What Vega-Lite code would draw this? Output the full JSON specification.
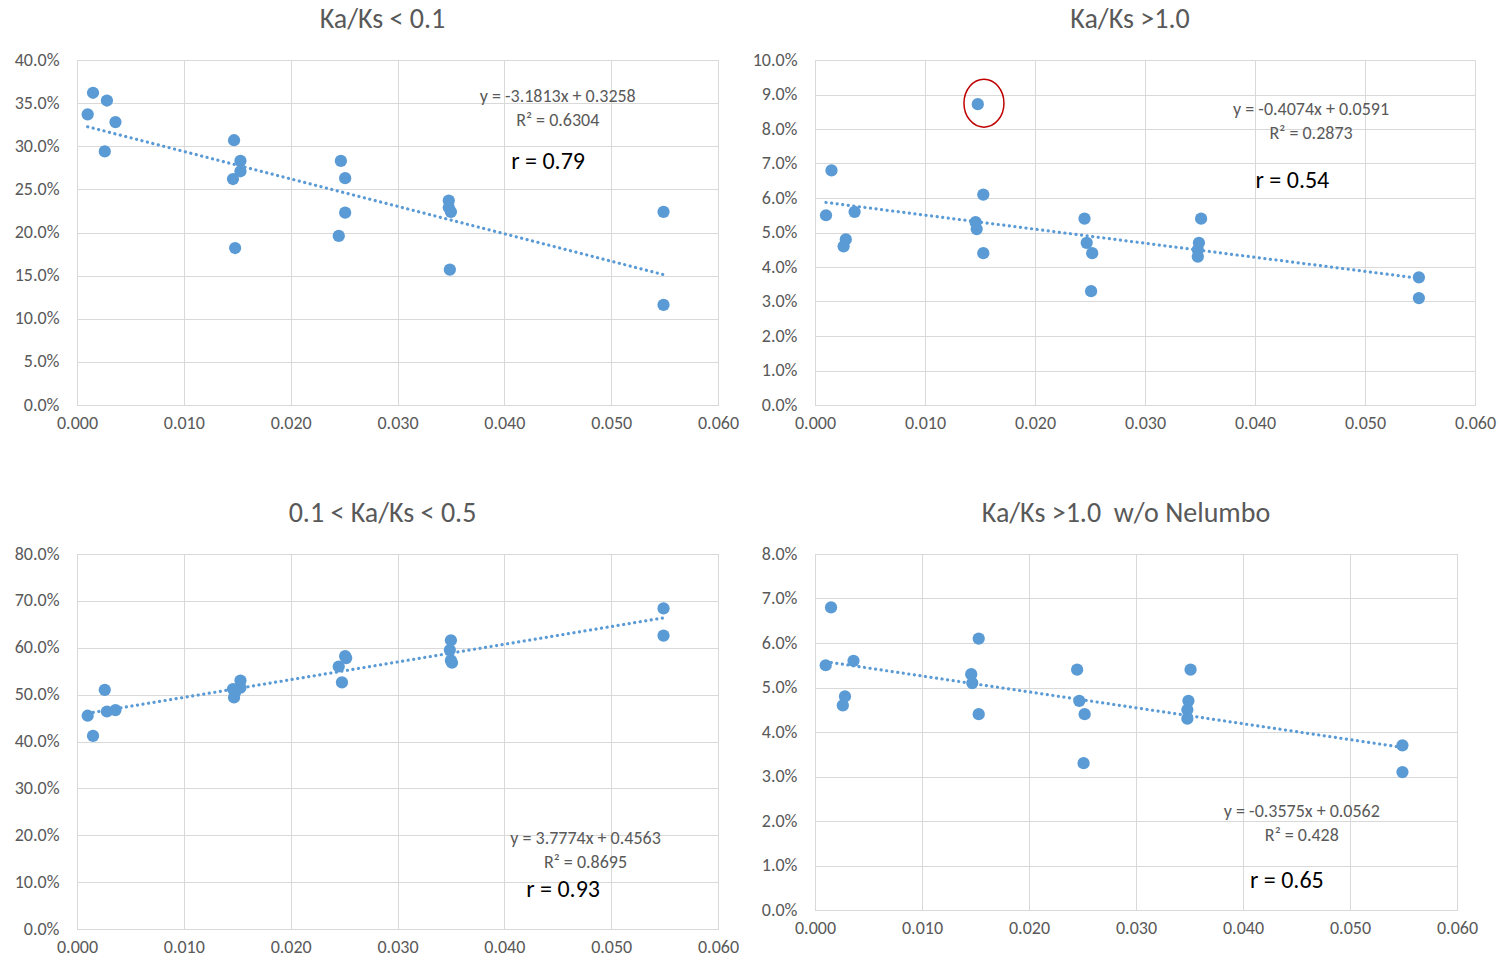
{
  "$schema": "https://vega.github.io/schema/vega-lite/v6.json",
  "background": "white",
  "padding": {"left": 13, "top": 5, "right": 0, "bottom": 0},
  "config": {
    "font": "Calibri, Carlito, Lato, sans-serif",
    "view": {"stroke": "#D9D9D9"},
    "axis": {"grid": true, "gridColor": "#D9D9D9", "domainColor": "#D9D9D9", "ticks": false, "tickSize": 0, "labelColor": "#595959", "labelFontSize": 18, "labelFlush": false, "labelOverlap": false},
    "axisX": {"labelPadding": 9},
    "axisY": {"labelPadding": 18},
    "title": {"fontSize": 28, "color": "#595959", "fontWeight": "normal", "anchor": "middle", "frame": "group", "offset": 17, "baseline": "alphabetic"}
  },
  "datasets": {
    "p1": [
      {"x": 0.0015, "y": 0.362}, {"x": 0.0028, "y": 0.353}, {"x": 0.0010, "y": 0.337}, {"x": 0.0036, "y": 0.328}, {"x": 0.0026, "y": 0.294},
      {"x": 0.0147, "y": 0.307}, {"x": 0.0153, "y": 0.283}, {"x": 0.0153, "y": 0.271}, {"x": 0.0146, "y": 0.262}, {"x": 0.0148, "y": 0.182},
      {"x": 0.0247, "y": 0.283}, {"x": 0.0251, "y": 0.263}, {"x": 0.0251, "y": 0.223}, {"x": 0.0245, "y": 0.196},
      {"x": 0.0348, "y": 0.237}, {"x": 0.0348, "y": 0.229}, {"x": 0.0350, "y": 0.224}, {"x": 0.0349, "y": 0.157},
      {"x": 0.0549, "y": 0.224}, {"x": 0.0549, "y": 0.116}
    ],
    "p2": [
      {"x": 0.0148, "y": 0.0872}, {"x": 0.0015, "y": 0.068}, {"x": 0.0153, "y": 0.061}, {"x": 0.0036, "y": 0.056}, {"x": 0.0010, "y": 0.055},
      {"x": 0.0146, "y": 0.053}, {"x": 0.0147, "y": 0.051}, {"x": 0.0028, "y": 0.048}, {"x": 0.0026, "y": 0.046}, {"x": 0.0153, "y": 0.044},
      {"x": 0.0245, "y": 0.054}, {"x": 0.0247, "y": 0.047}, {"x": 0.0252, "y": 0.044}, {"x": 0.0251, "y": 0.033},
      {"x": 0.0351, "y": 0.054}, {"x": 0.0349, "y": 0.047}, {"x": 0.0348, "y": 0.045}, {"x": 0.0348, "y": 0.043},
      {"x": 0.0549, "y": 0.037}, {"x": 0.0549, "y": 0.031}
    ],
    "p3": [
      {"x": 0.0010, "y": 0.455}, {"x": 0.0015, "y": 0.412}, {"x": 0.0026, "y": 0.510}, {"x": 0.0028, "y": 0.464}, {"x": 0.0036, "y": 0.467},
      {"x": 0.0153, "y": 0.530}, {"x": 0.0153, "y": 0.515}, {"x": 0.0146, "y": 0.512}, {"x": 0.0148, "y": 0.505}, {"x": 0.0147, "y": 0.494},
      {"x": 0.0251, "y": 0.582}, {"x": 0.0252, "y": 0.578}, {"x": 0.0245, "y": 0.560}, {"x": 0.0248, "y": 0.526},
      {"x": 0.0350, "y": 0.616}, {"x": 0.0349, "y": 0.595}, {"x": 0.0350, "y": 0.573}, {"x": 0.0351, "y": 0.568},
      {"x": 0.0549, "y": 0.684}, {"x": 0.0549, "y": 0.626}
    ],
    "p4": [
      {"x": 0.0015, "y": 0.068}, {"x": 0.0153, "y": 0.061}, {"x": 0.0036, "y": 0.056}, {"x": 0.0010, "y": 0.055},
      {"x": 0.0146, "y": 0.053}, {"x": 0.0147, "y": 0.051}, {"x": 0.0028, "y": 0.048}, {"x": 0.0026, "y": 0.046}, {"x": 0.0153, "y": 0.044},
      {"x": 0.0245, "y": 0.054}, {"x": 0.0247, "y": 0.047}, {"x": 0.0252, "y": 0.044}, {"x": 0.0251, "y": 0.033},
      {"x": 0.0351, "y": 0.054}, {"x": 0.0349, "y": 0.047}, {"x": 0.0348, "y": 0.045}, {"x": 0.0348, "y": 0.043},
      {"x": 0.0549, "y": 0.037}, {"x": 0.0549, "y": 0.031}
    ],
    "trend": [
      {"panel": 1, "x": 0.001, "y": 0.3226}, {"panel": 1, "x": 0.055, "y": 0.1508},
      {"panel": 2, "x": 0.001, "y": 0.0587}, {"panel": 2, "x": 0.055, "y": 0.0367},
      {"panel": 3, "x": 0.001, "y": 0.4601}, {"panel": 3, "x": 0.055, "y": 0.6641},
      {"panel": 4, "x": 0.001, "y": 0.0558}, {"panel": 4, "x": 0.055, "y": 0.0365}
    ],
    "notes": [
      {"panel": 1, "kind": "eq", "x": 0.0450, "y": 0.357, "label": "y = -3.1813x + 0.3258"},
      {"panel": 1, "kind": "eq", "x": 0.0450, "y": 0.329, "label": "R² = 0.6304"},
      {"panel": 1, "kind": "r", "x": 0.0441, "y": 0.282, "label": "r = 0.79"},
      {"panel": 2, "kind": "eq", "x": 0.0451, "y": 0.0855, "label": "y = -0.4074x + 0.0591"},
      {"panel": 2, "kind": "eq", "x": 0.0451, "y": 0.0786, "label": "R² = 0.2873"},
      {"panel": 2, "kind": "r", "x": 0.0434, "y": 0.0649, "label": "r = 0.54"},
      {"panel": 3, "kind": "eq", "x": 0.0476, "y": 0.192, "label": "y = 3.7774x + 0.4563"},
      {"panel": 3, "kind": "eq", "x": 0.0476, "y": 0.141, "label": "R² = 0.8695"},
      {"panel": 3, "kind": "r", "x": 0.0455, "y": 0.083, "label": "r = 0.93"},
      {"panel": 4, "kind": "eq", "x": 0.0455, "y": 0.0220, "label": "y = -0.3575x + 0.0562"},
      {"panel": 4, "kind": "eq", "x": 0.0455, "y": 0.0166, "label": "R² = 0.428"},
      {"panel": 4, "kind": "r", "x": 0.0441, "y": 0.0065, "label": "r = 0.65"}
    ],
    "circle": [{"x": 0.01536, "y": 0.0875}]
  },
  "columns": 2,
  "spacing": {"column": 97, "row": 149},
  "bounds": "flush",
  "concat": [
    {
      "width": 641, "height": 345,
      "title": {"text": "Ka/Ks < 0.1", "dx": -15},
      "encoding": {
        "x": {"field": "x", "type": "quantitative", "scale": {"domain": [0, 0.06], "nice": false}, "axis": {"title": null, "values": [0, 0.01, 0.02, 0.03, 0.04, 0.05, 0.06], "format": ".3f"}},
        "y": {"field": "y", "type": "quantitative", "scale": {"domain": [0, 0.4], "nice": false}, "axis": {"title": null, "values": [0, 0.05, 0.1, 0.15, 0.2, 0.25, 0.3, 0.35, 0.4], "format": ".1%"}}
      },
      "layer": [
        {"data": {"name": "p1"}, "mark": {"type": "point", "filled": true, "size": 150, "color": "#5B9BD5", "opacity": 1}},
        {"data": {"name": "trend"}, "transform": [{"filter": "datum.panel == 1"}], "mark": {"type": "line", "color": "#5B9BD5", "strokeWidth": 3.2, "strokeDash": [0.1, 5.5], "strokeCap": "round"}, "encoding": {}},
        {"data": {"name": "notes"}, "transform": [{"filter": "datum.panel == 1 && datum.kind == 'eq'"}], "mark": {"type": "text", "fontSize": 18, "color": "#595959", "align": "center", "baseline": "middle"}, "encoding": {"text": {"field": "label"}}},
        {"data": {"name": "notes"}, "transform": [{"filter": "datum.panel == 1 && datum.kind == 'r'"}], "mark": {"type": "text", "fontSize": 24, "color": "#000000", "align": "center", "baseline": "middle"}, "encoding": {"text": {"field": "label"}}}
      ]
    },
    {
      "width": 660, "height": 345,
      "title": {"text": "Ka/Ks >1.0", "dx": -15},
      "encoding": {
        "x": {"field": "x", "type": "quantitative", "scale": {"domain": [0, 0.06], "nice": false}, "axis": {"title": null, "values": [0, 0.01, 0.02, 0.03, 0.04, 0.05, 0.06], "format": ".3f"}},
        "y": {"field": "y", "type": "quantitative", "scale": {"domain": [0, 0.1], "nice": false}, "axis": {"title": null, "values": [0, 0.01, 0.02, 0.03, 0.04, 0.05, 0.06, 0.07, 0.08, 0.09, 0.1], "format": ".1%"}}
      },
      "layer": [
        {"data": {"name": "p2"}, "mark": {"type": "point", "filled": true, "size": 150, "color": "#5B9BD5", "opacity": 1}},
        {"data": {"name": "circle"}, "mark": {"type": "point", "filled": false, "shape": "M-0.833,0A0.833,1,0,1,0,0.833,0A0.833,1,0,1,0,-0.833,0Z", "size": 2304, "stroke": "#C00000", "strokeWidth": 1.5, "opacity": 1}},
        {"data": {"name": "trend"}, "transform": [{"filter": "datum.panel == 2"}], "mark": {"type": "line", "color": "#5B9BD5", "strokeWidth": 3.2, "strokeDash": [0.1, 5.5], "strokeCap": "round"}, "encoding": {}},
        {"data": {"name": "notes"}, "transform": [{"filter": "datum.panel == 2 && datum.kind == 'eq'"}], "mark": {"type": "text", "fontSize": 18, "color": "#595959", "align": "center", "baseline": "middle"}, "encoding": {"text": {"field": "label"}}},
        {"data": {"name": "notes"}, "transform": [{"filter": "datum.panel == 2 && datum.kind == 'r'"}], "mark": {"type": "text", "fontSize": 24, "color": "#000000", "align": "center", "baseline": "middle"}, "encoding": {"text": {"field": "label"}}}
      ]
    },
    {
      "width": 641, "height": 375,
      "title": {"text": "0.1 < Ka/Ks < 0.5", "dx": -15},
      "encoding": {
        "x": {"field": "x", "type": "quantitative", "scale": {"domain": [0, 0.06], "nice": false}, "axis": {"title": null, "values": [0, 0.01, 0.02, 0.03, 0.04, 0.05, 0.06], "format": ".3f"}},
        "y": {"field": "y", "type": "quantitative", "scale": {"domain": [0, 0.8], "nice": false}, "axis": {"title": null, "values": [0, 0.1, 0.2, 0.3, 0.4, 0.5, 0.6, 0.7, 0.8], "format": ".1%"}}
      },
      "layer": [
        {"data": {"name": "p3"}, "mark": {"type": "point", "filled": true, "size": 150, "color": "#5B9BD5", "opacity": 1}},
        {"data": {"name": "trend"}, "transform": [{"filter": "datum.panel == 3"}], "mark": {"type": "line", "color": "#5B9BD5", "strokeWidth": 3.2, "strokeDash": [0.1, 5.5], "strokeCap": "round"}, "encoding": {}},
        {"data": {"name": "notes"}, "transform": [{"filter": "datum.panel == 3 && datum.kind == 'eq'"}], "mark": {"type": "text", "fontSize": 18, "color": "#595959", "align": "center", "baseline": "middle"}, "encoding": {"text": {"field": "label"}}},
        {"data": {"name": "notes"}, "transform": [{"filter": "datum.panel == 3 && datum.kind == 'r'"}], "mark": {"type": "text", "fontSize": 24, "color": "#000000", "align": "center", "baseline": "middle"}, "encoding": {"text": {"field": "label"}}}
      ]
    },
    {
      "width": 642, "height": 356,
      "title": {"text": "Ka/Ks >1.0\u00a0 w/o Nelumbo", "dx": -10},
      "encoding": {
        "x": {"field": "x", "type": "quantitative", "scale": {"domain": [0, 0.06], "nice": false}, "axis": {"title": null, "values": [0, 0.01, 0.02, 0.03, 0.04, 0.05, 0.06], "format": ".3f"}},
        "y": {"field": "y", "type": "quantitative", "scale": {"domain": [0, 0.08], "nice": false}, "axis": {"title": null, "values": [0, 0.01, 0.02, 0.03, 0.04, 0.05, 0.06, 0.07, 0.08], "format": ".1%"}}
      },
      "layer": [
        {"data": {"name": "p4"}, "mark": {"type": "point", "filled": true, "size": 150, "color": "#5B9BD5", "opacity": 1}},
        {"data": {"name": "trend"}, "transform": [{"filter": "datum.panel == 4"}], "mark": {"type": "line", "color": "#5B9BD5", "strokeWidth": 3.2, "strokeDash": [0.1, 5.5], "strokeCap": "round"}, "encoding": {}},
        {"data": {"name": "notes"}, "transform": [{"filter": "datum.panel == 4 && datum.kind == 'eq'"}], "mark": {"type": "text", "fontSize": 18, "color": "#595959", "align": "center", "baseline": "middle"}, "encoding": {"text": {"field": "label"}}},
        {"data": {"name": "notes"}, "transform": [{"filter": "datum.panel == 4 && datum.kind == 'r'"}], "mark": {"type": "text", "fontSize": 24, "color": "#000000", "align": "center", "baseline": "middle"}, "encoding": {"text": {"field": "label"}}}
      ]
    }
  ]
}
